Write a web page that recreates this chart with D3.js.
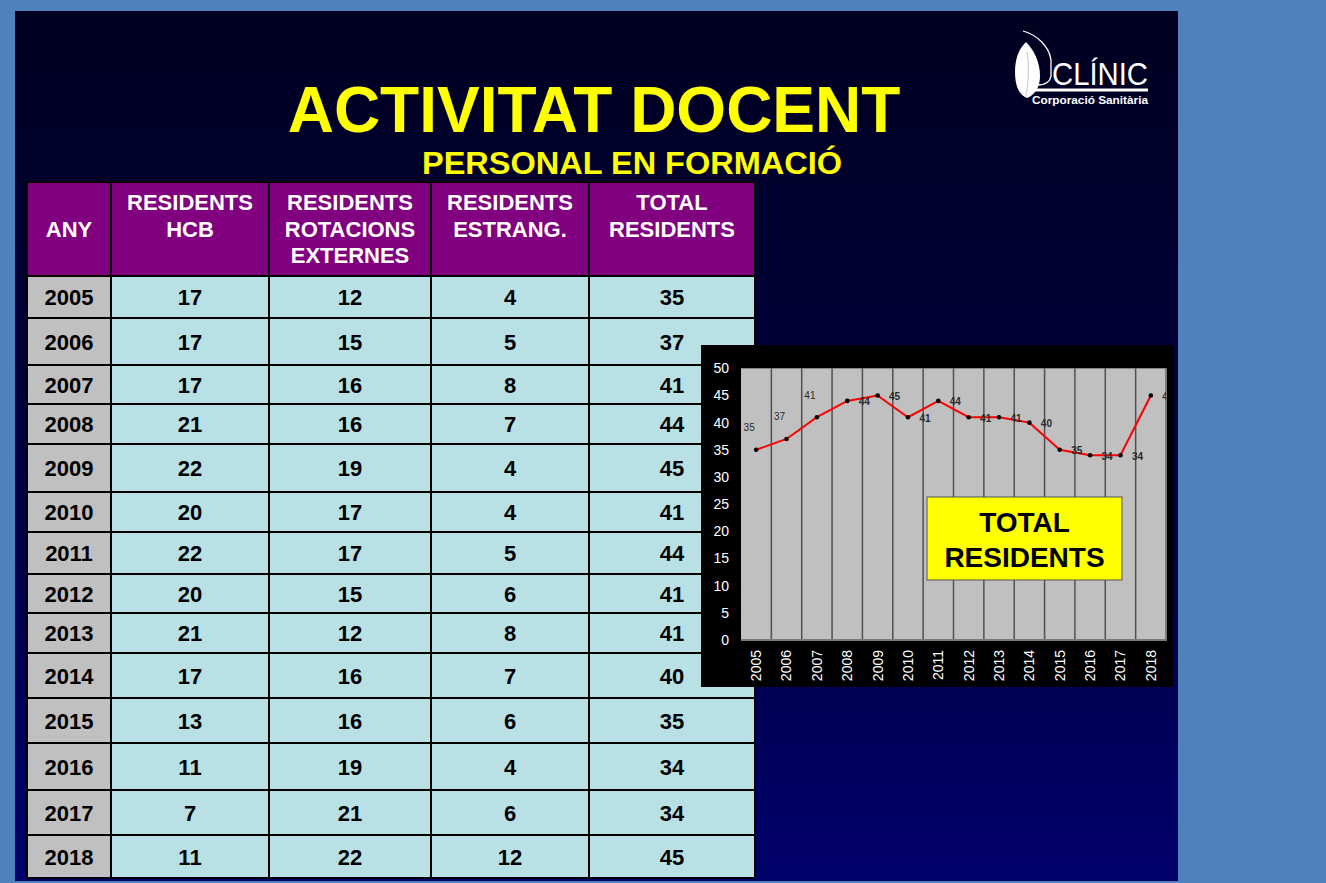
<!DOCTYPE html>
<html><head><meta charset="utf-8">
<script src="https://cdn.jsdelivr.net/npm/d3@7"></script>
<style>html,body{margin:0;padding:0;background:#4f81bd;}svg{display:block;}</style>
</head><body>
<svg id="c" width="1326" height="883"></svg>
<script>
// ---- data ----
const years = [2005,2006,2007,2008,2009,2010,2011,2012,2013,2014,2015,2016,2017,2018];
const residentsHCB = [17,17,17,21,22,20,22,20,21,17,13,11,7,11];
const rotacionsExternes = [12,15,16,16,19,17,17,15,12,16,16,19,21,22];
const estrang = [4,5,8,7,4,4,5,6,8,7,6,4,6,12];
const totalResidents = [35,37,41,44,45,41,44,41,41,40,35,34,34,45];
const headers = [["ANY"],["RESIDENTS","HCB"],["RESIDENTS","ROTACIONS","EXTERNES"],["RESIDENTS","ESTRANG."],["TOTAL","RESIDENTS"]];
const yTicks = [0,5,10,15,20,25,30,35,40,45,50];
const title = "ACTIVITAT DOCENT";
const subtitle = "PERSONAL EN FORMACIÓ";
const boxLabel = ["TOTAL","RESIDENTS"];

// ---- layout ----
const FONT = "'Liberation Sans', Arial, Helvetica, sans-serif";
const svg = d3.select("#c");
const defs = svg.append("defs");
const g = defs.append("linearGradient").attr("id","bg").attr("x1",0).attr("y1",0).attr("x2",0).attr("y2",1);
g.append("stop").attr("offset","0%").attr("stop-color","#000020");
g.append("stop").attr("offset","45%").attr("stop-color","#00003a");
g.append("stop").attr("offset","100%").attr("stop-color","#00006a");

svg.append("rect").attr("width",1326).attr("height",883).attr("fill","#4f81bd");
svg.append("rect").attr("x",15).attr("y",11).attr("width",1163).attr("height",870).attr("fill","url(#bg)");

// titles
svg.append("text").attr("x",594).attr("y",132).attr("text-anchor","middle")
  .attr("font-family",FONT).attr("font-weight","bold").attr("font-size",64).attr("fill","#ffff00").text(title);
svg.append("text").attr("x",632).attr("y",174).attr("text-anchor","middle")
  .attr("font-family",FONT).attr("font-weight","bold").attr("font-size",31).attr("fill","#ffff00")
  .attr("textLength",420).attr("lengthAdjust","spacingAndGlyphs").text(subtitle);

// logo
const logo = svg.append("g");
logo.append("path").attr("d","M1026,42 C1034,50 1040,62 1040,76 C1040,87 1035,95 1027,98 C1019,95 1015,86 1015,72 C1015,58 1019,49 1026,42 Z").attr("fill","#ffffff");
logo.append("path").attr("d","M1023,31 C1037,35 1049,46 1051,60 L1051,76 C1050,82 1045,85 1037,85").attr("fill","none").attr("stroke","#ffffff").attr("stroke-width",1.3);
logo.append("path").attr("d","M1027,52 C1029,65 1029,80 1026,96").attr("fill","none").attr("stroke","#c8c8d8").attr("stroke-width",1);
logo.append("text").attr("x",1052).attr("y",85).attr("font-family",FONT).attr("font-size",31).attr("fill","#fff")
  .attr("textLength",96).attr("lengthAdjust","spacingAndGlyphs").text("CLÍNIC");
logo.append("rect").attr("x",1032).attr("y",88.5).attr("width",116).attr("height",3).attr("fill","#fff");
logo.append("text").attr("x",1032).attr("y",104).attr("font-family",FONT).attr("font-size",11.5).attr("font-weight","bold").attr("fill","#fff")
  .attr("textLength",116).attr("lengthAdjust","spacingAndGlyphs").text("Corporació Sanitària");

// ---- table ----
const colKeys = ["any","hcb","rot","est","tot"];
const colEdges = [27,111,269,431,589,755];
const colX = d3.scaleOrdinal().domain(colKeys).range(colEdges.slice(0,5));
const colW = d3.scaleOrdinal().domain(colKeys).range(colKeys.map((k,i)=>colEdges[i+1]-colEdges[i]));
const rowEdges = [276,318,365,404,444,492,532,574,613,653,698,743,790,835,878];
const rowY = d3.scaleOrdinal().domain(years).range(rowEdges.slice(0,-1));
const rowH = d3.scaleOrdinal().domain(years).range(years.map((y,i)=>rowEdges[i+1]-rowEdges[i]));
const headTop = 182, headBot = 276;

const table = svg.append("g");
const hc = table.selectAll("g.h").data(colKeys).join("g").attr("class","h");
hc.append("rect").attr("x",d=>colX(d)).attr("y",headTop).attr("width",d=>colW(d)).attr("height",headBot-headTop)
  .attr("fill","#800080").attr("stroke","#000").attr("stroke-width",2);
hc.each(function(d,i){
  const lines = headers[i];
  const cx = colX(d)+colW(d)/2;
  const t = d3.select(this).append("text").attr("text-anchor","middle").attr("font-family",FONT)
    .attr("font-weight","bold").attr("font-size",22).attr("fill","#fff");
  const startY = lines.length===1 ? (headTop+headBot)/2+8 : 210;
  lines.forEach((l,j)=>t.append("tspan").attr("x",cx).attr("y",startY+j*26.5).text(l));
});

const rows = years.map((y,i)=>({year:y, vals:[y,residentsHCB[i],rotacionsExternes[i],estrang[i],totalResidents[i]]}));
const rg = table.selectAll("g.r").data(rows).join("g").attr("class","r");
rg.each(function(r){
  const sel = d3.select(this);
  colKeys.forEach((k,j)=>{
    sel.append("rect").attr("x",colX(k)).attr("y",rowY(r.year)).attr("width",colW(k)).attr("height",rowH(r.year))
      .attr("fill", j===0?"#c0c0c0":"#b9e0e4").attr("stroke","#000").attr("stroke-width",2);
    sel.append("text").attr("x",colX(k)+colW(k)/2).attr("y",rowY(r.year)+rowH(r.year)/2+8)
      .attr("text-anchor","middle").attr("font-family",FONT).attr("font-weight","bold").attr("font-size",22)
      .attr("fill","#000").text(r.vals[j]);
  });
});

// ---- chart ----
const chart = svg.append("g");
chart.append("rect").attr("x",701).attr("y",345).attr("width",472).attr("height",342).attr("fill","#000");
const pl = 741, pr = 1166, pt = 368.3, pb = 640;
const x = d3.scaleBand().domain(years).range([pl,pr]).padding(0);
const y = d3.scaleLinear().domain([0,50]).range([pb,pt]);
chart.append("rect").attr("x",pl).attr("y",pt).attr("width",pr-pl).attr("height",pb-pt).attr("fill","#c0c0c0");
chart.selectAll("line.vg").data(years.slice(1)).join("line").attr("class","vg")
  .attr("x1",d=>x(d)).attr("x2",d=>x(d)).attr("y1",pt).attr("y2",pb)
  .attr("stroke","#505050").attr("stroke-width",1.5);
chart.append("path").attr("d",`M${pr},${pt} L${pr},${pb} L${pl},${pb}`).attr("fill","none").attr("stroke","#7a7a7a").attr("stroke-width",2);

const yAxis = chart.append("g").attr("transform",`translate(${pl},0)`)
  .call(d3.axisLeft(y).tickValues(yTicks).tickSize(0).tickPadding(12));
yAxis.select(".domain").remove();
yAxis.selectAll("text").attr("fill","#fff").attr("font-family",FONT).attr("font-size",14);

const xAxis = chart.append("g").attr("transform",`translate(0,${pb})`)
  .call(d3.axisBottom(x).tickSize(0));
xAxis.select(".domain").remove();
xAxis.selectAll("text").attr("fill","#fff").attr("font-family",FONT).attr("font-size",14)
  .attr("transform","rotate(-90)").attr("text-anchor","end").attr("x",-10).attr("y",0).attr("dy","0.35em");

const pts = years.map((yr,i)=>({yr, v:totalResidents[i], i}));
const line = d3.line().x(d=>x(d.yr)+x.bandwidth()/2).y(d=>y(d.v));
chart.append("path").datum(pts).attr("d",line).attr("fill","none").attr("stroke","#ff0000").attr("stroke-width",2);
chart.selectAll("circle.p").data(pts).join("circle").attr("class","p")
  .attr("cx",d=>x(d.yr)+x.bandwidth()/2).attr("cy",d=>y(d.v)).attr("r",2.3).attr("fill","#000");

defs.append("clipPath").attr("id","pc").append("rect").attr("x",pl).attr("y",pt).attr("width",pr-pl).attr("height",pb-pt);
chart.append("g").attr("clip-path","url(#pc)").selectAll("text").data(pts).join("text")
  .attr("x",d=>x(d.yr)+x.bandwidth()/2 + (d.i<3 ? -7 : 17))
  .attr("y",d=>y(d.v) + (d.i<3 ? -22 : 1))
  .attr("dy","0.35em").attr("text-anchor","middle").attr("font-family",FONT).attr("font-size",10)
  .attr("font-weight",d=>d.i<3?"normal":"bold")
  .attr("fill","#2a2a2a").text(d=>d.v);

chart.append("rect").attr("x",927).attr("y",497).attr("width",195).attr("height",83).attr("fill","#ffff00").attr("stroke","#555").attr("stroke-width",1);
chart.append("text").attr("text-anchor","middle").attr("font-family",FONT).attr("font-weight","bold").attr("font-size",28).attr("fill","#000")
  .selectAll("tspan").data(boxLabel).join("tspan").attr("x",1024.5).attr("y",(d,i)=>531.5+i*35.5).text(d=>d);
</script>
</body></html>
